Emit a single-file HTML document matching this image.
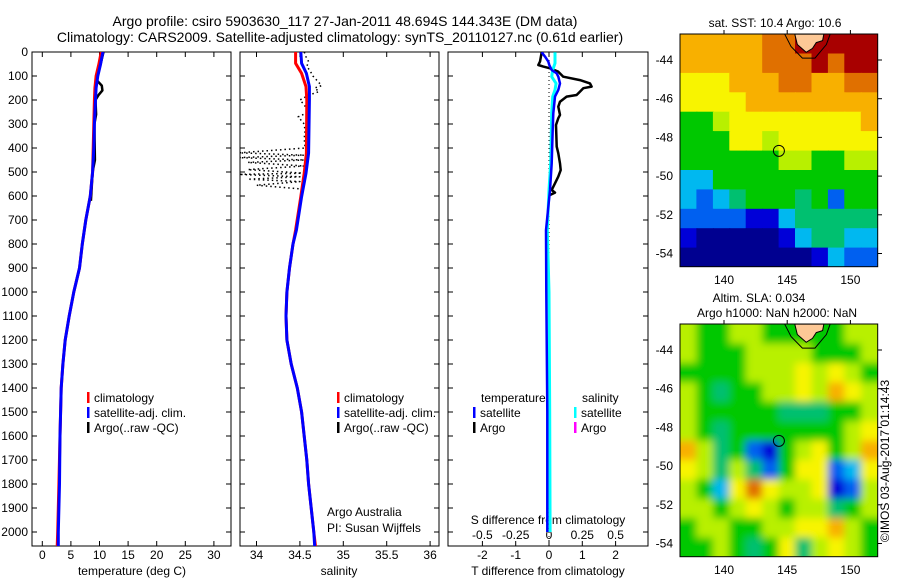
<!DOCTYPE html>
<html><head><meta charset="utf-8"><style>
html,body{margin:0;padding:0;background:#fff;}
svg{display:block;font-family:"Liberation Sans",sans-serif;}
</style></head><body>
<svg id="fig" width="900" height="580" viewBox="0 0 900 580" xmlns="http://www.w3.org/2000/svg">
<defs>
<filter id="sm" x="0" y="0" width="1" height="1"><feGaussianBlur stdDeviation="4"/></filter>
<clipPath id="c1"><rect x="680" y="34" width="197.7" height="232.7"/></clipPath>
<clipPath id="c2"><rect x="680" y="324" width="197.7" height="232.7"/></clipPath>
<clipPath id="p1"><rect x="32" y="52" width="199" height="494"/></clipPath>
<clipPath id="p2"><rect x="240" y="52" width="199" height="494"/></clipPath>
<clipPath id="p3"><rect x="448" y="52" width="200" height="494"/></clipPath>
</defs>
<text x="345" y="26" font-size="14" text-anchor="middle">Argo profile: csiro 5903630_117 27-Jan-2011 48.694S 144.343E (DM data)</text>
<text x="340" y="42" font-size="14" text-anchor="middle">Climatology: CARS2009. Satellite-adjusted climatology: synTS_20110127.nc (0.61d earlier)</text>
<g id="g"></g>
</svg>
<script>
// ---------- profile data ----------
const depthTicks=[0,100,200,300,400,500,600,700,800,900,1000,1100,1200,1300,1400,1500,1600,1700,1800,1900,2000];
const tempTicks=[0,5,10,15,20,25,30];
const salTicks=[34,34.5,35,35.5,36];
const tdiffTicks=[-2,-1,0,1,2];
const sdiffTicks=[-0.5,-0.25,0,0.25,0.5];
const sdiffLabels=["-0.5","-0.25","0","0.25","0.5"];

const climDepth=[0,50,100,150,200,300,400,500,600,700,800,900,1000,1100,1200,1300,1400,1500,1600,1800,2000,2060];
const climTemp=[10.3,9.9,9.4,9.2,9.1,9.0,8.9,8.8,8.4,7.6,7.0,6.5,5.5,4.7,4.0,3.6,3.3,3.2,3.1,2.9,2.7,2.6];
const satTemp=[10.6,10.2,9.7,9.4,9.3,9.1,9.0,8.8,8.4,7.6,7.0,6.5,5.5,4.7,4.0,3.6,3.3,3.2,3.1,3.0,2.8,2.8];
const argoTDepth=[0,50,100,120,140,160,180,200,260,300,450,500,580,620];
const argoTemp=[10.7,10.2,9.6,9.6,10.4,10.5,9.8,9.3,9.4,9.1,9.2,8.8,8.6,8.5];

const salDepth=[0,47,89,144,200,421,505,603,742,800,900,1000,1100,1200,1300,1400,1500,1600,1700,1800,1900,2000,2060];
const climSal=[34.45,34.45,34.52,34.57,34.58,34.575,34.55,34.51,34.45,34.42,34.38,34.35,34.34,34.35,34.4,34.47,34.52,34.55,34.58,34.6,34.63,34.66,34.68];
const satSal=[34.51,34.52,34.575,34.61,34.61,34.6,34.57,34.52,34.46,34.42,34.38,34.35,34.34,34.35,34.4,34.47,34.52,34.55,34.58,34.6,34.63,34.66,34.67];
const argoSDepth=[0,20,40,60,80,100,120,140,150,165,180,200,220,250,270,300,330,360,400,420,430,440,450,460,475,490,505,510,520,530,540,555,570];
const argoSal=[34.55,34.57,34.6,34.58,34.62,34.65,34.7,34.75,34.67,34.72,34.6,34.5,34.55,34.6,34.48,34.55,34.56,34.55,34.56,33.8,34.55,33.8,34.55,33.9,34.55,33.9,34.55,33.8,34.5,33.9,34.5,34.0,34.5];

const dArgoDepth=[1,40,54,61,68,82,103,117,131,144,151,165,179,186,207,228,262,276,304,394,422,464,492,519,547,575,586,596];
const dArgoT=[-0.22,-0.27,-0.32,-0.17,0.03,0.28,0.43,0.93,1.23,1.28,1.03,0.93,0.83,0.53,0.33,0.28,0.33,0.28,0.21,0.23,0.28,0.33,0.35,0.28,0.18,0.08,0.18,0.03];
const dSatDepth=[1,19,40,54,75,89,103,131,158,186,256,325,464,575,742,1000,1500,2000];
const dSatT=[-0.22,-0.12,-0.02,0.01,0.08,0.23,0.28,0.33,0.28,0.18,0.13,0.11,0.08,0.03,-0.09,-0.08,-0.05,-0.05];
const dSatSDepth=[1,47,75,103,131,158,186,256,464,575,742,1000,1500,2000];
const dSatS=[0.045,0.045,0.028,0.02,0.053,0.045,0.028,0.02,0.013,0.0,-0.013,0.0,0.005,0.008];

// ---------- map data (palette index per cell) ----------
const sstRows=[
"8888899aaaaa","88888999a9aa","777888998899","777788888888",
"556777777778","555776777777","555555665566","335555555555",
"323455545255","222211344444","100000134433","000000001322"];
const slaRows=[
"655665555566","655566665556","555566676765","654556676876",
"655555444556","654555555567","864521567568","764642577237",
"653797667126","665676566456","566556677865","556545746765"];
const palette=["#000090","#0000d8","#0060f0","#00b8f0","#00c070","#00c800","#b8f000","#f8f400","#f8b000","#e07000","#a80000"];
const mapLonTicks=[140,145,150];
const mapLatTicks=[-44,-46,-48,-50,-52,-54];
const floatLon=144.343, floatLat=-48.694;
const tasLon=[145.6,145.8,146.5,147.0,147.3,147.8,147.9];
const tasLat=[-42.66,-43.2,-43.6,-43.4,-43.1,-43.0,-42.66];
const contLon=[144.8,145.3,146.2,147.2,148.1,148.4];
const contLat=[-42.66,-43.3,-43.9,-43.9,-43.2,-42.66];

// ---------- helpers ----------
const NS="http://www.w3.org/2000/svg";
const G=document.getElementById('g');
function mk(tag,attrs,parent){const e=document.createElementNS(NS,tag);for(const k in attrs)e.setAttribute(k,attrs[k]);(parent||G).appendChild(e);return e;}
const yD=d=>52+d*0.24;
const xT=t=>42.3+t*5.72;
const xS=s=>256.5+(s-34)*86.8;
const xDT=t=>549+t*33.3;
const xDS=s=>549+s*133.2;
const lonX=l=>724+(l-140)*12.64;
const latY=(l,off)=>off+60+(-44-l)*19.35;

function line(xs,ys,color,w,name,clip,dash){
  const p=xs.map((x,i)=>x.toFixed(1)+','+ys[i].toFixed(1)).join(' ');
  const e=mk('polyline',{points:p,fill:'none',stroke:color,'stroke-width':w,'clip-path':'url(#'+clip+')','stroke-linejoin':'round'});
  if(dash)e.setAttribute('stroke-dasharray',dash);
  
  
}
function txt(x,y,s,size,anchor,name,extra){
  const e=mk('text',Object.assign({x:x,y:y,'font-size':size,'text-anchor':anchor||'start'},extra||{}));
  e.textContent=s;
  
  
  return e;
}
function panel(x0,w,name){
  const r=mk('rect',{x:x0,y:52,width:w,height:494,fill:'none',stroke:'#000','stroke-width':1});
  
  
  depthTicks.forEach(d=>{const y=yD(d);
    const t1=mk('line',{x1:x0,x2:x0+5,y1:y,y2:y,stroke:'#000'});
    
    
    const t2=mk('line',{x1:x0+w-5,x2:x0+w,y1:y,y2:y,stroke:'#000'});
    
    });
}
function xticks(vals,fx,labels,name){
  vals.forEach((v,i)=>{const x=fx(v);
    const a=mk('line',{x1:x,x2:x,y1:52,y2:57,stroke:'#000'});
    
    
    const b=mk('line',{x1:x,x2:x,y1:541,y2:546,stroke:'#000'});
    
    
    if(labels)txt(x,559,labels[i],12,'middle',name+'-tick-label');});
}

// ---------- panels ----------
panel(32,199,'temperature-panel');
panel(240,199,'salinity-panel');
panel(448,200,'difference-panel');
depthTicks.forEach(d=>txt(28,yD(d)+4,String(d),12,'end','depth-tick-label'));
xticks(tempTicks,xT,tempTicks.map(String),'temperature');
xticks(salTicks,xS,salTicks.map(String),'salinity');
xticks(tdiffTicks,xDT,tdiffTicks.map(String),'tdiff');
sdiffTicks.forEach((v,i)=>txt(xDS(v),539,sdiffLabels[i],12,'middle','sdiff-tick-label'));
txt(132,575,'temperature (deg C)',12,'middle','temperature-axis-title');
txt(339,575,'salinity',12,'middle','salinity-axis-title');
txt(548,575,'T difference from climatology',12,'middle','tdiff-axis-title');
txt(548,524,'S difference from climatology',12,'middle','sdiff-axis-title');
txt(327,516,'Argo Australia',12,'start','credit-line-1');
txt(327,532,'PI: Susan Wijffels',12,'start','credit-line-2');

// temperature
line(argoTemp.map(xT),argoTDepth.map(yD),'#000',2.5,'argo-temperature-line','p1');
line(climTemp.map(xT),climDepth.map(yD),'#f00',3,'climatology-temperature-line','p1');
line(satTemp.map(xT),climDepth.map(yD),'#00f',3,'satellite-temperature-line','p1');
// salinity
line(argoSal.map(xS),argoSDepth.map(yD),'#000',1.5,'argo-salinity-line','p2','1.5,3');
line(climSal.map(xS),salDepth.map(yD),'#f00',3,'climatology-salinity-line','p2');
line(satSal.map(xS),salDepth.map(yD),'#00f',3,'satellite-salinity-line','p2');
// differences
line([xDT(0),xDT(0)],[yD(0),yD(2060)],'#000',1,'zero-line','p3','1,3');
line(dArgoT.map(xDT),dArgoDepth.map(yD),'#000',2.5,'argo-tdiff-line','p3');
line(dSatS.map(xDS),dSatSDepth.map(yD),'#0ff',3,'satellite-sdiff-line','p3');
line(dSatT.map(xDT),dSatDepth.map(yD),'#00f',2.5,'satellite-tdiff-line','p3');

// legends
function leg(x,y,color,label,name){
  const b=mk('rect',{x:x,y:y-10,width:2.5,height:11,fill:color});
  
  
  if(label)txt(x+7,y,label,12,'start',name+'-label');
}
leg(87,402,'#f00','climatology','legend-climatology');
leg(87,417,'#00f','satellite-adj. clim.','legend-satellite');
leg(87,432,'#000','Argo(..raw -QC)','legend-argo');
leg(337,402,'#f00','climatology','legend2-climatology');
leg(337,417,'#00f','satellite-adj. clim.','legend2-satellite');
leg(337,432,'#000','Argo(..raw -QC)','legend2-argo');
txt(481,402,'temperature',12,'start','legend-temperature-heading');
txt(582,402,'salinity',12,'start','legend-salinity-heading');
leg(473,417,'#00f','satellite','legend-t-satellite');
leg(473,432,'#000','Argo','legend-t-argo');
leg(574,417,'#0ff','satellite','legend-s-satellite');
leg(574,432,'#f0f','Argo','legend-s-argo');

// ---------- maps ----------
function drawMap(rows,off,clip,name,smooth){
  const g=mk('g',{'clip-path':'url(#'+clip+')'});
  
  
  const inner=mk('g',smooth?{filter:'url(#sm)'}:{},g);
  const nr=rows.length,nc=rows[0].length;
  const lon0=136.52,lon1=152.12,lat0=-42.66,lat1=-54.7;
  const cw=(lon1-lon0)/nc,ch=(lat0-lat1)/nr;
  rows.forEach((row,r)=>{for(let c=0;c<nc;c++){
    const ch_=row[c];const idx=ch_==='a'?10:parseInt(ch_,10);
    const x=lonX(lon0+c*cw),y=latY(lat0-r*ch,off);
    const pad=smooth?12:0;
    const e=mk('rect',{x:(x-(c===0?pad:0)).toFixed(1),y:(y-(r===0?pad:0)).toFixed(1),width:(cw*12.64+1+(c===0||c===nc-1?pad:0)).toFixed(1),height:(ch*19.35+1+(r===0||r===nr-1?pad:0)).toFixed(1),fill:palette[idx]},inner);
    
    
  }});
  const tas=mk('polygon',{points:tasLon.map((l,i)=>lonX(l)+','+latY(tasLat[i],off)).join(' '),fill:'#fcc896',stroke:'#000','stroke-width':1},g);
  
  
  const ct=mk('polyline',{points:contLon.map((l,i)=>lonX(l)+','+latY(contLat[i],off)).join(' '),fill:'none',stroke:'#000','stroke-width':1},g);
  
  
  const fc=mk('circle',{cx:lonX(floatLon),cy:latY(floatLat,off),r:5.5,fill:'none',stroke:'#000','stroke-width':1},g);
  
  
  const fr=mk('rect',{x:680,y:off+34,width:197.7,height:232.7,fill:'none',stroke:'#000'});
  
  
  mapLonTicks.forEach(l=>{const x=lonX(l);
    const t=mk('line',{x1:x,x2:x,y1:off+30,y2:off+34,stroke:'#000'});
    
    
    txt(x,off+284,String(l),12,'middle','map-lon-label');});
  mapLatTicks.forEach(l=>{const y=latY(l,off);
    const t=mk('line',{x1:877.7,x2:882,y1:y,y2:y,stroke:'#000'});
    
    
    txt(673,y+4,String(l),12,'end','map-lat-label');});
}
drawMap(sstRows,0,'c1','sst-map',false);
drawMap(slaRows,290,'c2','sla-map',true);
txt(775,27,'sat. SST: 10.4 Argo: 10.6',12,'middle','sst-map-title');
txt(759,302,'Altim. SLA: 0.034',12,'middle','sla-map-title');
txt(777,317,'Argo h1000: NaN h2000: NaN',12,'middle','sla-map-subtitle');
txt(0,0,'\u00A9IMOS 03-Aug-2017 01:14:43',12,'middle','timestamp',{transform:'translate(889,461) rotate(-90)'});
</script>
</body></html>
